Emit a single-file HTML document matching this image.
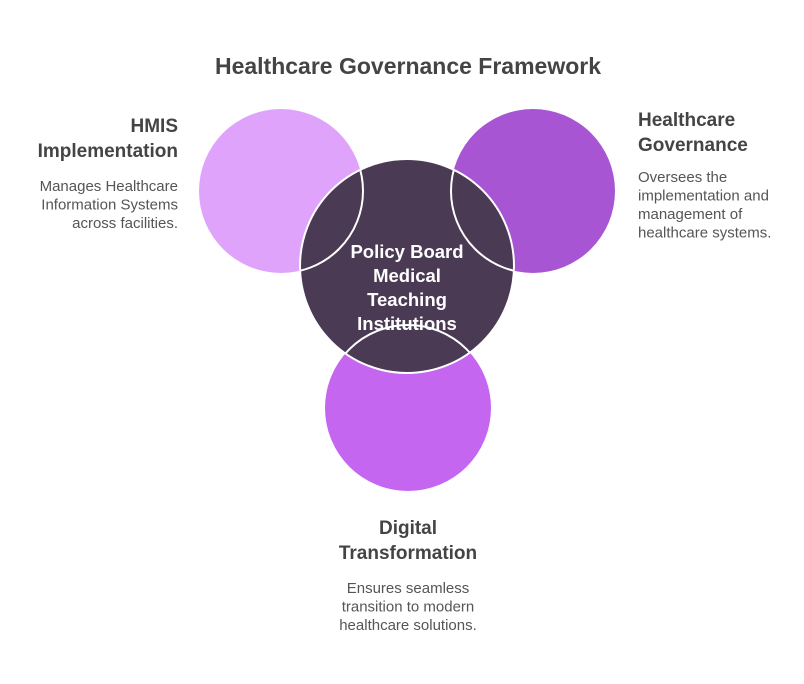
<!DOCTYPE html>
<html><head><meta charset="utf-8"><style>
html,body{margin:0;padding:0;background:#fff;}
svg{display:block;}
text{font-family:"Liberation Sans",sans-serif;}
</style></head><body>
<svg width="804" height="684" viewBox="0 0 804 684" xmlns="http://www.w3.org/2000/svg">
<defs>
<clipPath id="cc"><circle cx="407" cy="266" r="107"/></clipPath>
</defs>
<text x="408" y="74" text-anchor="middle" font-size="23" font-weight="bold" fill="#444">Healthcare Governance Framework</text>

<circle cx="281" cy="191" r="82" fill="#dfa3fb"/>
<circle cx="533" cy="191" r="82" fill="#a855d4"/>
<circle cx="408" cy="408" r="83" fill="#c566f0"/>
<circle cx="407" cy="266" r="107" fill="#4b3a54" stroke="#fff" stroke-width="2"/>

<g font-size="18.5" font-weight="bold" fill="#fff" text-anchor="middle">
<text x="407" y="258">Policy Board</text>
<text x="407" y="282">Medical</text>
<text x="407" y="306">Teaching</text>
<text x="407" y="330">Institutions</text>
</g>

<g clip-path="url(#cc)" fill="none" stroke="#fff" stroke-width="2">
<circle cx="281" cy="191" r="82"/>
<circle cx="533" cy="191" r="82"/>
<circle cx="408" cy="408" r="83"/>
</g>

<g font-size="19" font-weight="bold" fill="#444" text-anchor="end">
<text x="178" y="132">HMIS</text>
<text x="178" y="157">Implementation</text>
</g>
<g font-size="15" fill="#555" text-anchor="end">
<text x="178" y="191">Manages Healthcare</text>
<text x="178" y="209.5">Information Systems</text>
<text x="178" y="228">across facilities.</text>
</g>

<g font-size="19" font-weight="bold" fill="#444">
<text x="638" y="126">Healthcare</text>
<text x="638" y="151">Governance</text>
</g>
<g font-size="15" fill="#555">
<text x="638" y="182">Oversees the</text>
<text x="638" y="200.5">implementation and</text>
<text x="638" y="219">management of</text>
<text x="638" y="237.5">healthcare systems.</text>
</g>

<g font-size="19" font-weight="bold" fill="#444" text-anchor="middle">
<text x="408" y="534">Digital</text>
<text x="408" y="559">Transformation</text>
</g>
<g font-size="15" fill="#555" text-anchor="middle">
<text x="408" y="593">Ensures seamless</text>
<text x="408" y="611.5">transition to modern</text>
<text x="408" y="630">healthcare solutions.</text>
</g>
</svg>
</body></html>
